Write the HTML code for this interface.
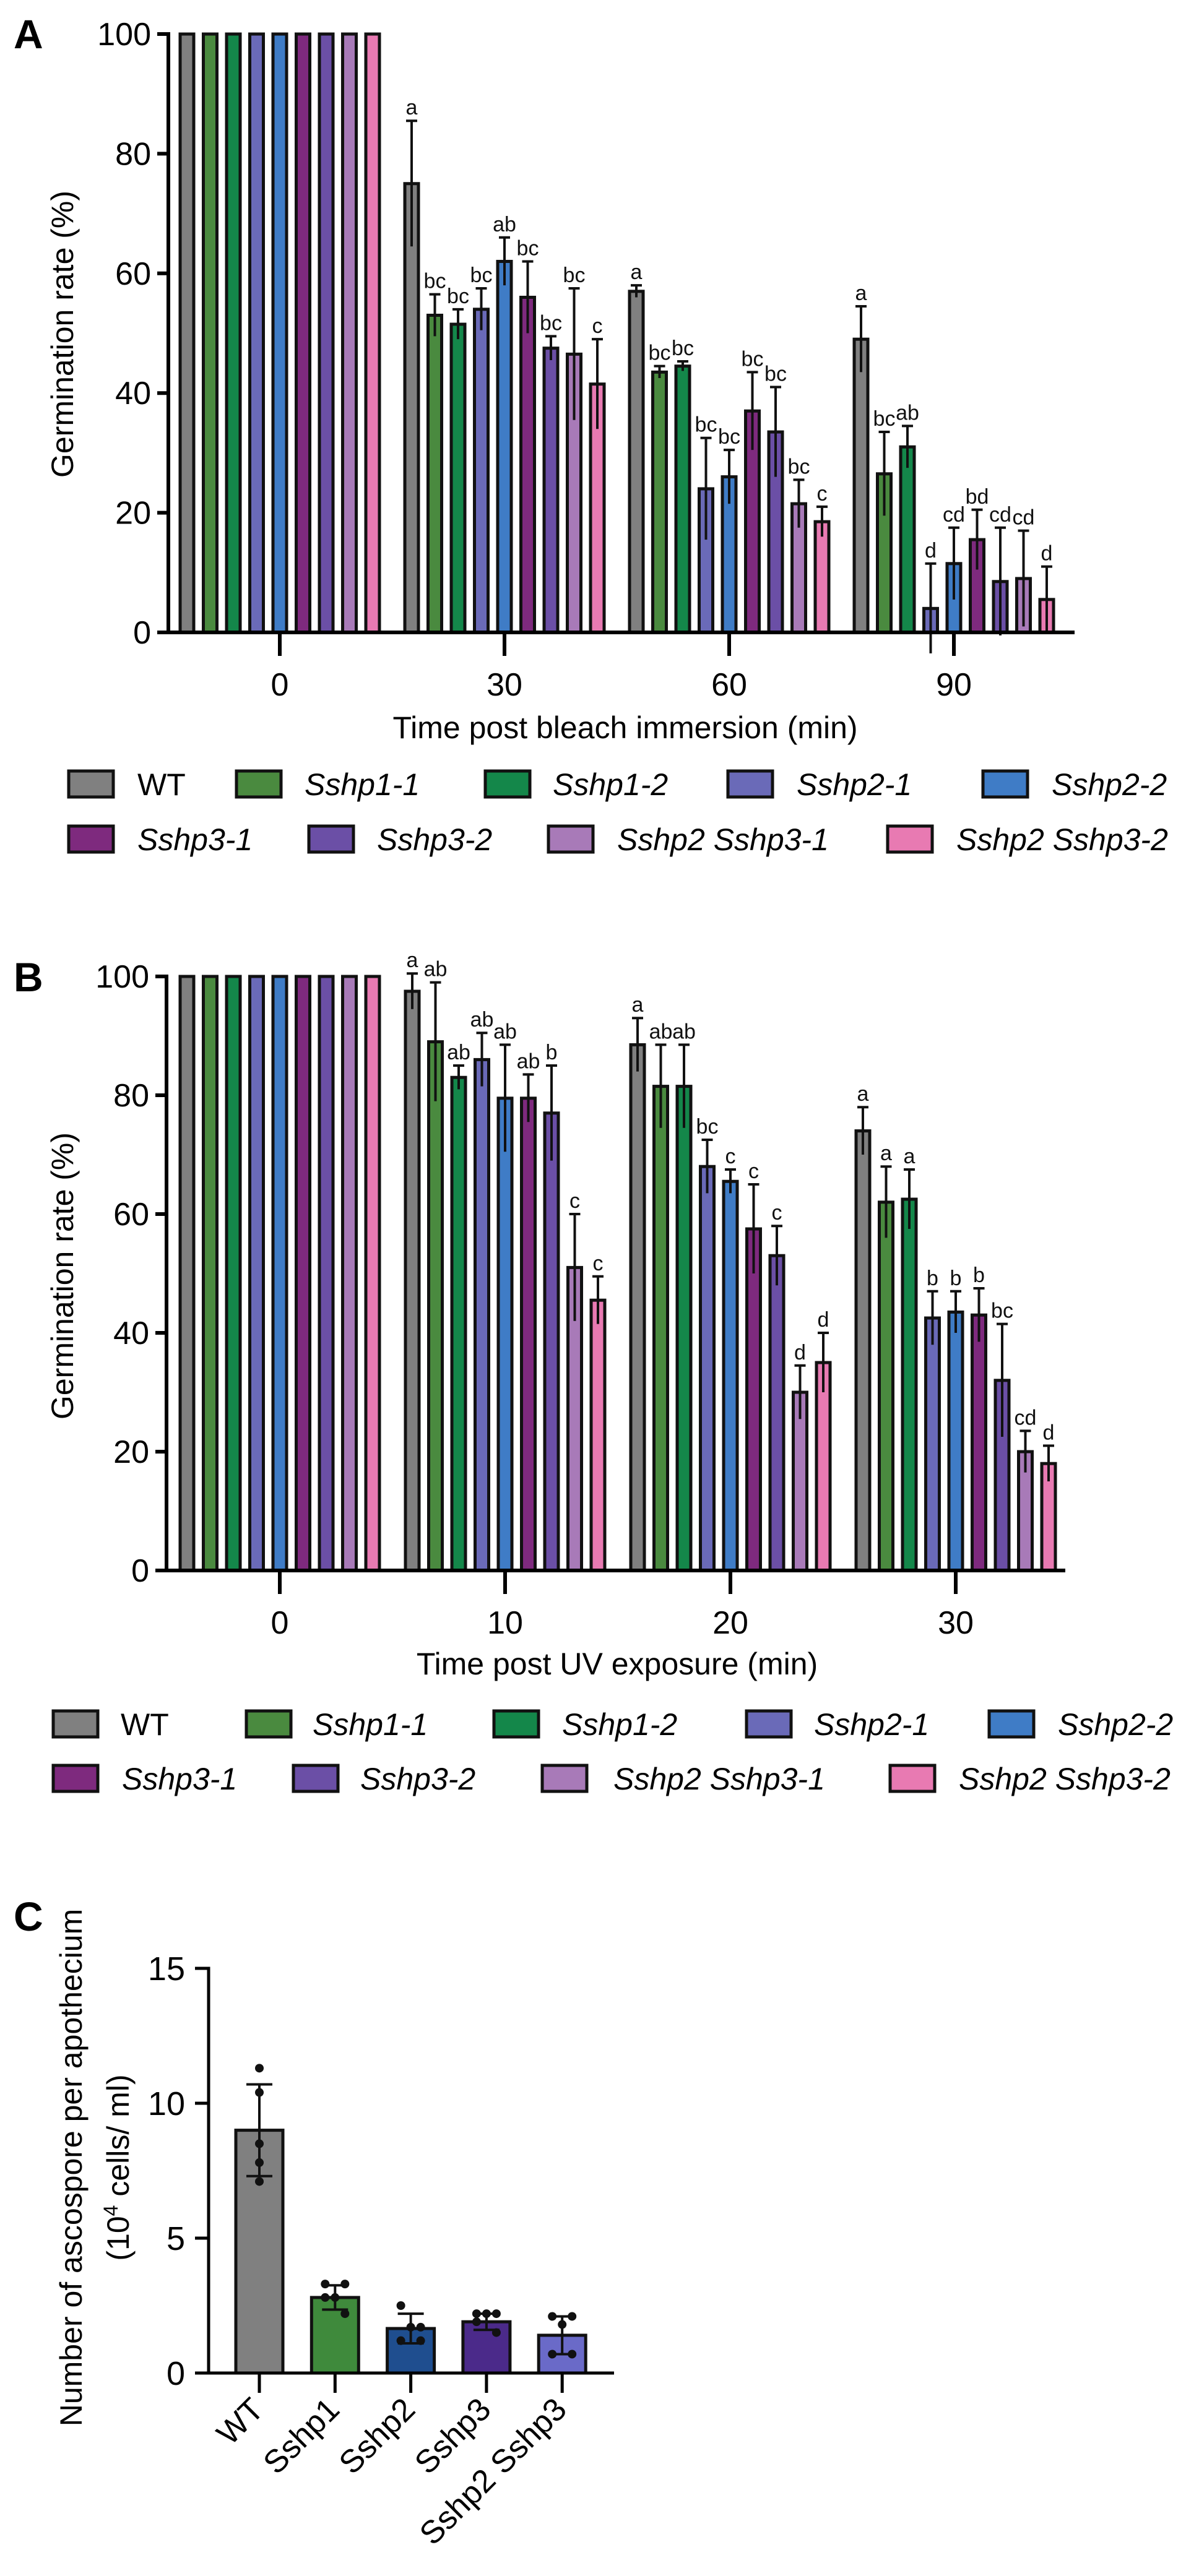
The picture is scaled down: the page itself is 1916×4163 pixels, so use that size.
<!DOCTYPE html>
<html><head><meta charset="utf-8">
<style>
html,body{margin:0;padding:0;background:#fff;}
svg{display:block;font-family:"Liberation Sans",sans-serif;}
</style></head>
<body>
<svg id="fig" width="1916" height="4163" viewBox="0 0 1916 4163" xmlns="http://www.w3.org/2000/svg">
<text x="22" y="78" font-size="66" font-weight="bold">A</text>
<text x="22" y="1602" font-size="66" font-weight="bold">B</text>
<text x="22" y="3120" font-size="66" font-weight="bold">C</text>
<g id="chartA"></g>
<g id="chartB"></g>
<g id="chartC"></g>
</svg>
<script>
const strains = ["WT","Sshp1-1","Sshp1-2","Sshp2-1","Sshp2-2","Sshp3-1","Sshp3-2","Sshp2 Sshp3-1","Sshp2 Sshp3-2"];
const colors = ["#808080","#4a8a3f","#14874a","#6a6ab8","#3f7cc6","#7e2a7e","#6b4fa6","#a87ab8","#e87ab2"];
const aTimes = ["0","30","60","90"];
const aMeans = [
 [100,100,100,100,100,100,100,100,100],
 [75,53,51.5,54,62,56,47.5,46.5,41.5],
 [57,43.5,44.5,24,26,37,33.5,21.5,18.5],
 [49,26.5,31,4,11.5,15.5,8.5,9,5.5]];
const aErrs = [
 [0,0,0,0,0,0,0,0,0],
 [10.5,3.5,2.5,3.5,4,6,2,11,7.5],
 [1,1,0.8,8.5,4.5,6.5,7.5,4,2.5],
 [5.5,7,3.5,7.5,6,5,9,8,5.5]];
const aLetters = [
 ["","","","","","","","",""],
 ["a","bc","bc","bc","ab","bc","bc","bc","c"],
 ["a","bc","bc","bc","bc","bc","bc","bc","c"],
 ["a","bc","ab","d","cd","bd","cd","cd","d"]];
const bTimes = ["0","10","20","30"];
const bMeans = [
 [100,100,100,100,100,100,100,100,100],
 [97.5,89,83,86,79.5,79.5,77,51,45.5],
 [88.5,81.5,81.5,68,65.5,57.5,53,30,35],
 [74,62,62.5,42.5,43.5,43,32,20,18]];
const bErrs = [
 [0,0,0,0,0,0,0,0,0],
 [3,10,2,4.5,9,4,8,9,4],
 [4.5,7,7,4.5,2,7.5,5,4.5,5],
 [4,6,5,4.5,3.5,4.5,9.5,3.5,3]];
const bLetters = [
 ["","","","","","","","",""],
 ["a","ab","ab","ab","ab","ab","b","c","c"],
 ["a","ab","ab","bc","c","c","c","d","d"],
 ["a","a","a","b","b","b","bc","cd","d"]];
const yTicks = [0,20,40,60,80,100];
const cCats = ["WT","Sshp1","Sshp2","Sshp3","Sshp2 Sshp3"];
const cColors = ["#808080","#3f8a3c","#1f4e8f","#4b2a8a","#6a6ac8"];
const cMeans = [9,2.8,1.65,1.9,1.4];
const cSd = [1.7,0.45,0.55,0.3,0.7];
const cPoints = [[11.3,10.4,8.5,7.8,7.1],[3.3,3.3,2.8,2.8,2.2],[2.5,1.7,1.7,1.2,1.2],[2.2,2.2,2.2,1.9,1.5],[2.1,2.1,1.8,0.7,0.7]];
const cTicks = [0,5,10,15];

const NS="http://www.w3.org/2000/svg";
function mk(parent,tag,attrs,txt){const e=document.createElementNS(NS,tag);for(const k in attrs)e.setAttribute(k,attrs[k]);if(txt!==undefined)e.textContent=txt;parent.appendChild(e);return e;}

function groupedChart(g,cfg,times,means,errs,letters){
  const y=v=>cfg.y0-(v/100)*(cfg.y0-cfg.y100);
  const gx=i=>cfg.g0+i*cfg.gs;
  const step=37.5,bw=22;
  times.forEach((t,gi)=>{
    strains.forEach((s,si)=>{
      const cx=gx(gi)+(si-4)*step;
      const v=means[gi][si],e=errs[gi][si];
      const r=mk(g,'rect',{x:cx-bw/2,y:y(v),width:bw,height:y(0)-y(v),fill:colors[si],stroke:'#111',"stroke-width":5});
      
      
      if(e>0){
        const el=mk(g,'path',{d:`M${cx},${y(v-e)}V${y(v+e)}M${cx-9},${y(v+e)}H${cx+9}`,stroke:'#111',"stroke-width":4,fill:'none'});
        
        
      }
      if(letters[gi][si]){
        const tx=mk(g,'text',{x:cx,y:y(v+e)-10,"font-size":34,"text-anchor":"middle",fill:'#111'},letters[gi][si]);
        
        
      }
    });
  });
  const ax=mk(g,'path',{d:`M${cfg.ax-14},${y(100)}H${cfg.ax}V${y(0)}H${cfg.xend}`,stroke:'#000',"stroke-width":6,fill:'none'});
  
  
  yTicks.forEach(v=>{
    mk(g,'path',{d:`M${cfg.ax-18},${y(v)}H${cfg.ax}`,stroke:'#000',"stroke-width":6});
    const tl=mk(g,'text',{x:cfg.ax-28,y:y(v)+18,"font-size":52,"text-anchor":"end"},String(v));
    
    
  });
  times.forEach((t,gi)=>{
    mk(g,'path',{d:`M${gx(gi)},${y(0)}V${y(0)+38}`,stroke:'#000',"stroke-width":6});
    const tl=mk(g,'text',{x:gx(gi),y:y(0)+102,"font-size":52,"text-anchor":"middle"},t);
    
    
  });
  const yt=mk(g,'text',{x:0,y:0,"font-size":50,"text-anchor":"middle",transform:`translate(${cfg.ytx},${cfg.yty}) rotate(-90)`},'Germination rate (%)');
  
  
  const xt=mk(g,'text',{x:cfg.xtx,y:cfg.xty,"font-size":50,"text-anchor":"middle"},cfg.xtitle);
  
  
  strains.forEach((s,si)=>{
    const row=si<5?0:1, col=si<5?si:si-5;
    const sx=cfg.legSw[row][col], tx=cfg.legTx[row][col], ly=cfg.legY[row];
    const lg=mk(g,'g',{});
    
    
    mk(lg,'rect',{x:sx,y:ly-21,width:72,height:42,fill:colors[si],stroke:'#111',"stroke-width":5});
    mk(lg,'text',{x:tx,y:ly+18,"font-size":50,"font-style":si===0?'normal':'italic'},s);
  });
}

groupedChart(document.getElementById('chartA'),{y0:1022,y100:55,g0:452,gs:363,ax:272,xend:1736,ytx:118,yty:540,xtx:1010,xty:1193,xtitle:'Time post bleach immersion (min)',
  legSw:[[111,382,784,1176,1588],[111,499,886,1434]],legTx:[[222,492,893,1287,1699],[222,609,997,1545]],legY:[1267,1356]},aTimes,aMeans,aErrs,aLetters);
groupedChart(document.getElementById('chartB'),{y0:2538,y100:1578,g0:452,gs:364,ax:269,xend:1721,ytx:118,yty:2062,xtx:997,xty:2706,xtitle:'Time post UV exposure (min)',
  legSw:[[86,398,798,1206,1598],[86,474,876,1438]],legTx:[[195,505,908,1315,1709],[197,582,991,1549]],legY:[2786,2874]},bTimes,bMeans,bErrs,bLetters);

(function(){
  const g=document.getElementById('chartC');
  const y0=3835,y15=3181,ax=337;
  const y=v=>y0-(v/15)*(y0-y15);
  const x=i=>419+i*122.3;
  const bw=76;
  const jit=[-16,16,0,-16,16];
  cCats.forEach((c,i)=>{
    const r=mk(g,'rect',{x:x(i)-bw/2,y:y(cMeans[i]),width:bw,height:y(0)-y(cMeans[i]),fill:cColors[i],stroke:'#111',"stroke-width":5});
    
    
    const e=mk(g,'path',{d:`M${x(i)},${y(cMeans[i]-cSd[i])}V${y(cMeans[i]+cSd[i])}M${x(i)-21},${y(cMeans[i]+cSd[i])}H${x(i)+21}M${x(i)-21},${y(cMeans[i]-cSd[i])}H${x(i)+21}`,stroke:'#111',"stroke-width":4,fill:'none'});
    
    
    cPoints[i].forEach((p,k)=>{
      const d=mk(g,'circle',{cx:x(i)+(i===0?0:jit[k]),cy:y(p),r:7,fill:'#111'});
      
      
    });
    mk(g,'path',{d:`M${x(i)},${y0}V${y0+32}`,stroke:'#000',"stroke-width":5});
    const t=mk(g,'text',{x:0,y:0,"font-size":52,"text-anchor":"end",transform:`translate(${x(i)+10},${y0+62}) rotate(-45)`},c);
    
    
  });
  const a=mk(g,'path',{d:`M${ax-14},${y(15)}H${ax}V${y0}H${992}`,stroke:'#000',"stroke-width":5,fill:'none'});
  
  
  cTicks.forEach(v=>{
    mk(g,'path',{d:`M${ax-22},${y(v)}H${ax}`,stroke:'#000',"stroke-width":5});
    const t=mk(g,'text',{x:ax-38,y:y(v)+19,"font-size":54,"text-anchor":"end"},String(v));
    
    
  });
  const t1=mk(g,'text',{x:0,y:0,"font-size":50,"text-anchor":"middle",transform:'translate(132,3503) rotate(-90)'},'Number of ascospore per apothecium');
  
  
  const t2=mk(g,'text',{x:0,y:0,"font-size":50,"text-anchor":"middle",transform:'translate(208,3503) rotate(-90)'});
  
  
  mk(t2,'tspan',{},'(10');
  mk(t2,'tspan',{dy:-18,"font-size":32},'4');
  mk(t2,'tspan',{dy:18},' cells/ ml)');
})();
</script>
</body></html>
